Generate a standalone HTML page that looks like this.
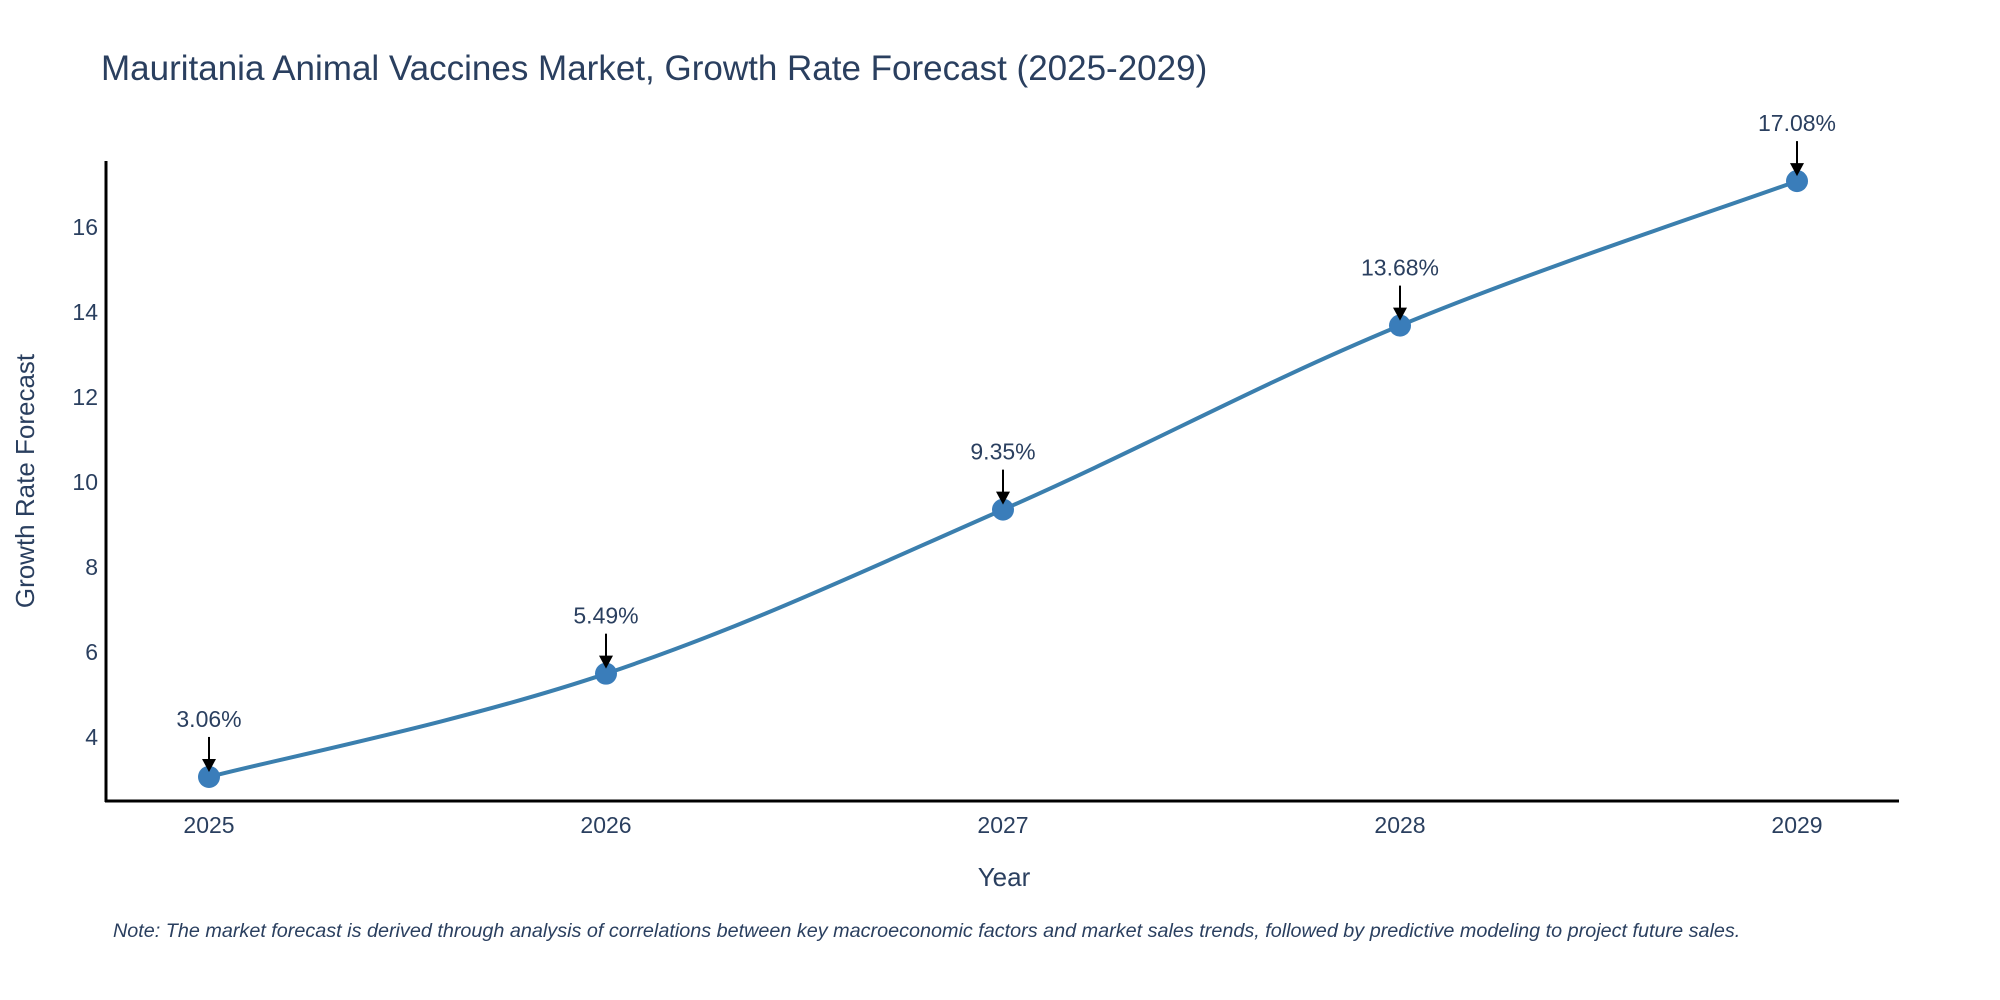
<!DOCTYPE html>
<html><head><meta charset="utf-8"><style>
html,body{margin:0;padding:0;background:#fff;}
svg{display:block;font-family:"Liberation Sans","DejaVu Sans",sans-serif;}
</style></head><body>
<svg id="chart" width="2000" height="1000" viewBox="0 0 2000 1000">
<rect width="2000" height="1000" fill="#fff"/>
<text x="101" y="80" font-size="35" fill="#2a3f5f">Mauritania Animal Vaccines Market, Growth Rate Forecast (2025-2029)</text>
<g id="yticks"></g>
<g id="xticks"></g>
<line x1="106" y1="161" x2="106" y2="802" stroke="#000" stroke-width="3"/>
<line x1="105" y1="801" x2="1899" y2="801" stroke="#000" stroke-width="3"/>
<path id="line" fill="none" stroke="#3b7fae" stroke-width="4"/>
<g id="points"></g>
<g id="annots"></g>
<text x="1004" y="886" font-size="26" fill="#2a3f5f" text-anchor="middle">Year</text>
<text transform="translate(34,481) rotate(-90)" font-size="26" fill="#2a3f5f" text-anchor="middle">Growth Rate Forecast</text>
<text x="113" y="937" font-size="19.8" font-style="italic" fill="#2a3f5f">Note: The market forecast is derived through analysis of correlations between key macroeconomic factors and market sales trends, followed by predictive modeling to project future sales.</text>
</svg>
<script>
const years = [2025, 2026, 2027, 2028, 2029];
const values = [3.06, 5.49, 9.35, 13.68, 17.08];
const labels = ["3.06%", "5.49%", "9.35%", "13.68%", "17.08%"];
const yTickValues = [4, 6, 8, 10, 12, 14, 16];

const NS = "http://www.w3.org/2000/svg";
function xs(v){ return 209 + (v - 2025) * 397; }
function ys(v){ return 737 - (v - 4) * 42.5; }
function mk(tag, attrs, parent){ const e=document.createElementNS(NS,tag); for(const k in attrs) e.setAttribute(k,attrs[k]); parent.appendChild(e); return e; }

const yt = document.getElementById('yticks');
yTickValues.forEach(v=>{
  const t = mk('text',{x:98,y:ys(v)+8,'font-size':23,fill:'#2a3f5f','text-anchor':'end'},yt);
  
  
  t.textContent = v;
});
const xt = document.getElementById('xticks');
years.forEach(y=>{
  const t = mk('text',{x:xs(y),y:833,'font-size':23,fill:'#2a3f5f','text-anchor':'middle'},xt);
  
  
  t.textContent = y;
});

const pts = years.map((y,i)=>[xs(y), ys(values[i])]);
let d = `M${pts[0][0]},${pts[0][1]}`;
const s = 0.18;
for(let i=0;i<pts.length-1;i++){
  const p0 = pts[Math.max(0,i-1)], p1=pts[i], p2=pts[i+1], p3=pts[Math.min(pts.length-1,i+2)];
  const c1=[p1[0]+(p2[0]-p0[0])*s, p1[1]+(p2[1]-p0[1])*s];
  const c2=[p2[0]-(p3[0]-p1[0])*s, p2[1]-(p3[1]-p1[1])*s];
  d += ` C${c1[0]},${c1[1]} ${c2[0]},${c2[1]} ${p2[0]},${p2[1]}`;
}
document.getElementById('line').setAttribute('d', d);

const pg = document.getElementById('points');
const ag = document.getElementById('annots');
pts.forEach((p,i)=>{
  const c = mk('circle',{cx:p[0],cy:p[1],r:11,fill:'#3a7dba'},pg);
  
  
  const l = mk('line',{x1:p[0],y1:p[1]-40,x2:p[0],y2:p[1]-16,stroke:'#000','stroke-width':2},ag);
  
  
  const h = mk('path',{d:`M${p[0]-7},${p[1]-18} L${p[0]+7},${p[1]-18} L${p[0]},${p[1]-5} Z`,fill:'#000'},ag);
  
  
  const t = mk('text',{x:p[0],y:p[1]-50,'font-size':23,fill:'#2a3f5f','text-anchor':'middle'},ag);
  
  
  t.textContent = labels[i];
});
</script>
</body></html>
